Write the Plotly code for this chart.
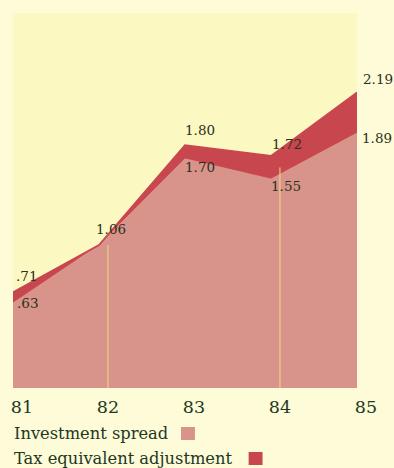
import plotly.graph_objects as go

years = [81, 82, 83, 84, 85]
tick_labels = ["81", "82", "83", "84", "85"]
investment_spread = [0.63, 1.06, 1.70, 1.55, 1.89]
with_tax_adjustment = [0.71, 1.06, 1.80, 1.72, 2.19]

SPREAD_COLOR = "#d8938a"
TAX_COLOR = "#c8474f"
TEXT_COLOR = "#22381f"
LABEL_COLOR = "#2a3120"
SERIF = "DejaVu Serif"

W, H = 394, 468
M = dict(l=11, r=37, t=13, b=80)
plot_w = W - M["l"] - M["r"]
px_per_year = plot_w / (years[-1] - years[0])


def fmt(v):
    s = f"{v:.2f}"
    return s[1:] if s.startswith("0") else s


fig = go.Figure()
fig.add_trace(go.Scatter(
    x=years, y=investment_spread, mode="lines",
    line=dict(color=SPREAD_COLOR, width=0.5),
    fill="tozeroy", fillcolor=SPREAD_COLOR, hoverinfo="skip",
))
fig.add_trace(go.Scatter(
    x=years, y=with_tax_adjustment, mode="lines",
    line=dict(color=TAX_COLOR, width=1.8),
    fill="tonexty", fillcolor=TAX_COLOR, hoverinfo="skip",
))

# thin guide lines under the labels of 82 and 84
label_offset = 9 / px_per_year
for i in (1, 3):
    fig.add_shape(type="line", xref="x", yref="y",
                  x0=years[i] + label_offset, x1=years[i] + label_offset,
                  y0=0, y1=investment_spread[i] + (with_tax_adjustment[i] - investment_spread[i]) * 0.5,
                  line=dict(color="#eedc82", width=1))

# value labels: (x shift, y shift) for the upper and lower series
top_shift = [(1, 16), (-5, 16), (-2, 15), (-1, 12), (4, 14)]
bottom_shift = [(2, 0), None, (-2, -8), (-2, -7), (3, -5)]
label_font = dict(family=SERIF, size=13.5, color=LABEL_COLOR)
for i, yr in enumerate(years):
    dx, dy = top_shift[i]
    fig.add_annotation(x=yr, y=with_tax_adjustment[i], text=fmt(with_tax_adjustment[i]),
                       showarrow=False, xanchor="left", yanchor="middle",
                       xshift=dx, yshift=dy, font=label_font)
    if bottom_shift[i] is not None:
        dx, dy = bottom_shift[i]
        fig.add_annotation(x=yr, y=investment_spread[i], text=fmt(investment_spread[i]),
                           showarrow=False, xanchor="left", yanchor="middle",
                           xshift=dx, yshift=dy, font=label_font)

# legend rows: text followed by a colour swatch
legend_rows = [("Investment spread", SPREAD_COLOR, 433, 187),
               ("Tax equivalent adjustment", TAX_COLOR, 458, 255)]
ph = H - M["t"] - M["b"]
for text, color, ypx, swatch_x in legend_rows:
    yp = 1 - (ypx - M["t"]) / ph
    fig.add_annotation(xref="paper", yref="paper", x=0, y=yp, text=text,
                       showarrow=False, xanchor="left", yanchor="middle",
                       xshift=-1,
                       font=dict(family=SERIF, size=16.3, color=TEXT_COLOR))
    fig.add_shape(type="rect", xref="paper", yref="paper",
                  x0=(swatch_x - 7 - M["l"]) / plot_w, x1=(swatch_x + 7 - M["l"]) / plot_w,
                  y0=1 - (ypx + 7 - M["t"]) / ph, y1=1 - (ypx - 6 - M["t"]) / ph,
                  fillcolor=color, line=dict(width=0))

fig.update_layout(
    width=W, height=H, margin=M,
    paper_bgcolor="#fdfbd8", plot_bgcolor="#fcf8c2",
    showlegend=False,
    xaxis=dict(range=[years[0], years[-1]], tickvals=years, ticktext=tick_labels,
               showgrid=False, zeroline=False, showline=False, ticks="",
               ticklabelshift=9, ticklabelstandoff=6,
               tickfont=dict(family=SERIF, size=17.5, color=TEXT_COLOR)),
    yaxis=dict(range=[0, 2.78], visible=False, showgrid=False, zeroline=False),
)

fig.write_html("out.html")
